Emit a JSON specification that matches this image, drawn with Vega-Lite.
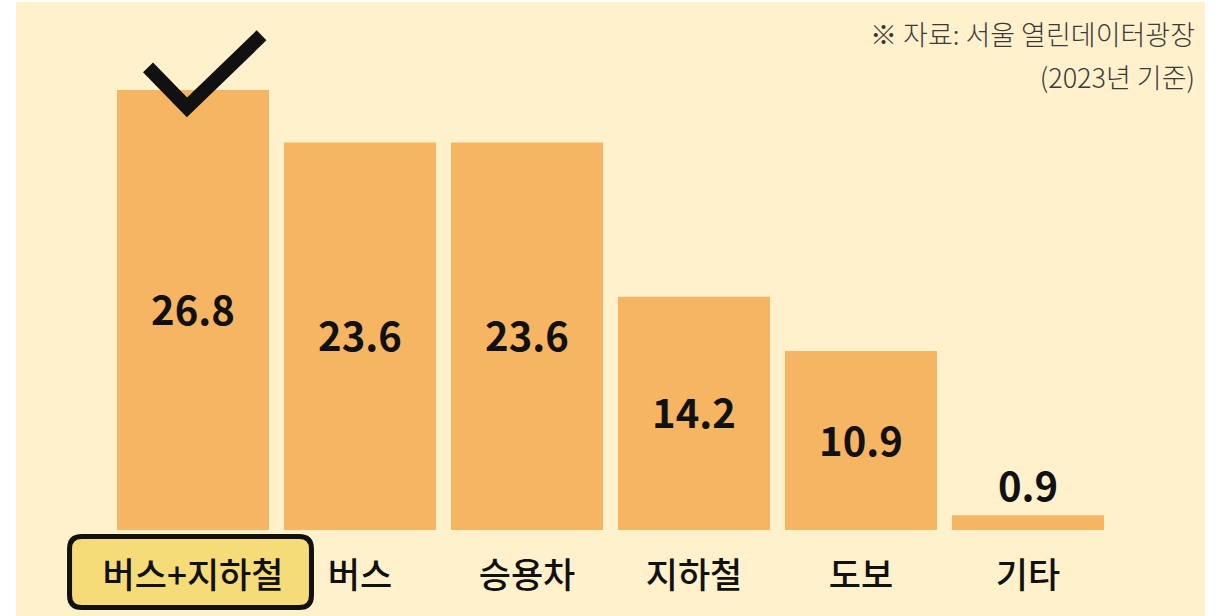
{
  "$schema": "https://vega.github.io/schema/vega-lite/v6.json",
  "width": 1189,
  "height": 614,
  "autosize": "none",
  "padding": {"left": 16, "top": 2, "right": 15, "bottom": 0},
  "background": "white",
  "config": {
    "view": {"stroke": null, "fill": "#FFF1CC"},
    "font": "Noto Sans CJK KR"
  },
  "title": {
    "text": ["※ 자료: 서울 열린데이터광장", "(2023년 기준)"],
    "anchor": "end",
    "frame": "group",
    "orient": "top",
    "offset": -92,
    "dx": -10,
    "fontSize": 27,
    "fontWeight": 300,
    "color": "#3a3a3a",
    "lineHeight": 43,
    "font": "Noto Sans CJK KR"
  },
  "data": {
    "values": [
      {"category": "버스+지하철", "value": 26.8},
      {"category": "버스", "value": 23.6},
      {"category": "승용차", "value": 23.6},
      {"category": "지하철", "value": 14.2},
      {"category": "도보", "value": 10.9},
      {"category": "기타", "value": 0.9}
    ]
  },
  "encoding": {
    "x": {
      "field": "category",
      "type": "nominal",
      "sort": null,
      "scale": {"paddingInner": 0.0898, "paddingOuter": 0.605},
      "axis": null
    }
  },
  "layer": [
    {
      "mark": {"type": "bar", "color": "#F5B563"},
      "encoding": {
        "y": {"field": "value", "type": "quantitative", "scale": {"domain": [-5.24, 32.16], "nice": false, "zero": false}, "axis": null}
      }
    },
    {
      "transform": [{"filter": "datum.category === '버스+지하철'"}],
      "mark": {
        "type": "point",
        "shape": "M -0.904 -0.289 L 0.863 -0.289 Q 0.963 -0.289 0.963 -0.189 L 0.963 0.189 Q 0.963 0.289 0.863 0.289 L -0.904 0.289 Q -1.004 0.289 -1.004 0.189 L -1.004 -0.189 Q -1.004 -0.289 -0.904 -0.289 Z",
        "size": 60516,
        "filled": true,
        "fill": "#F5DC78",
        "stroke": "#111111",
        "strokeWidth": 5,
        "opacity": 1,
        "fillOpacity": 1
      },
      "encoding": {
        "y": {"datum": -2.56, "type": "quantitative", "scale": {"domain": [-5.24, 32.16], "nice": false, "zero": false}, "axis": null}
      }
    },
    {
      "transform": [{"filter": "datum.category === '버스+지하철'"}],
      "mark": {
        "type": "point",
        "shape": "M -0.643 -0.043 L -0.086 0.529 L 0.979 -0.5",
        "size": 19600,
        "filled": false,
        "stroke": "#111111",
        "strokeWidth": 14,
        "strokeCap": "butt",
        "strokeJoin": "miter",
        "opacity": 1
      },
      "encoding": {
        "y": {"datum": 28, "type": "quantitative", "scale": {"domain": [-5.24, 32.16], "nice": false, "zero": false}, "axis": null}
      }
    },
    {
      "mark": {"type": "text", "fontSize": 35, "fontWeight": 500, "color": "#111111", "baseline": "middle", "align": "center", "dy": 2},
      "encoding": {
        "y": {"datum": -2.74, "type": "quantitative", "scale": {"domain": [-5.24, 32.16], "nice": false, "zero": false}, "axis": null},
        "text": {"field": "category"}
      }
    },
    {
      "transform": [{"filter": "datum.value < 3"}],
      "mark": {"type": "text", "fontSize": 40, "fontWeight": "bold", "color": "#111111", "baseline": "middle", "align": "center", "dy": -26},
      "encoding": {
        "y": {"field": "value", "type": "quantitative", "scale": {"domain": [-5.24, 32.16], "nice": false, "zero": false}, "axis": null},
        "text": {"field": "value", "format": ".1f"}
      }
    },
    {
      "transform": [{"filter": "datum.value >= 3"}],
      "mark": {"type": "text", "fontSize": 40, "fontWeight": "bold", "color": "#111111", "baseline": "middle", "align": "center", "dy": 3},
      "encoding": {
        "y": {"field": "value", "type": "quantitative", "scale": {"domain": [-10.48, 64.32], "nice": false, "zero": false}, "axis": null},
        "text": {"field": "value", "format": ".1f"}
      }
    }
  ],
  "resolve": {"scale": {"y": "independent"}}
}
